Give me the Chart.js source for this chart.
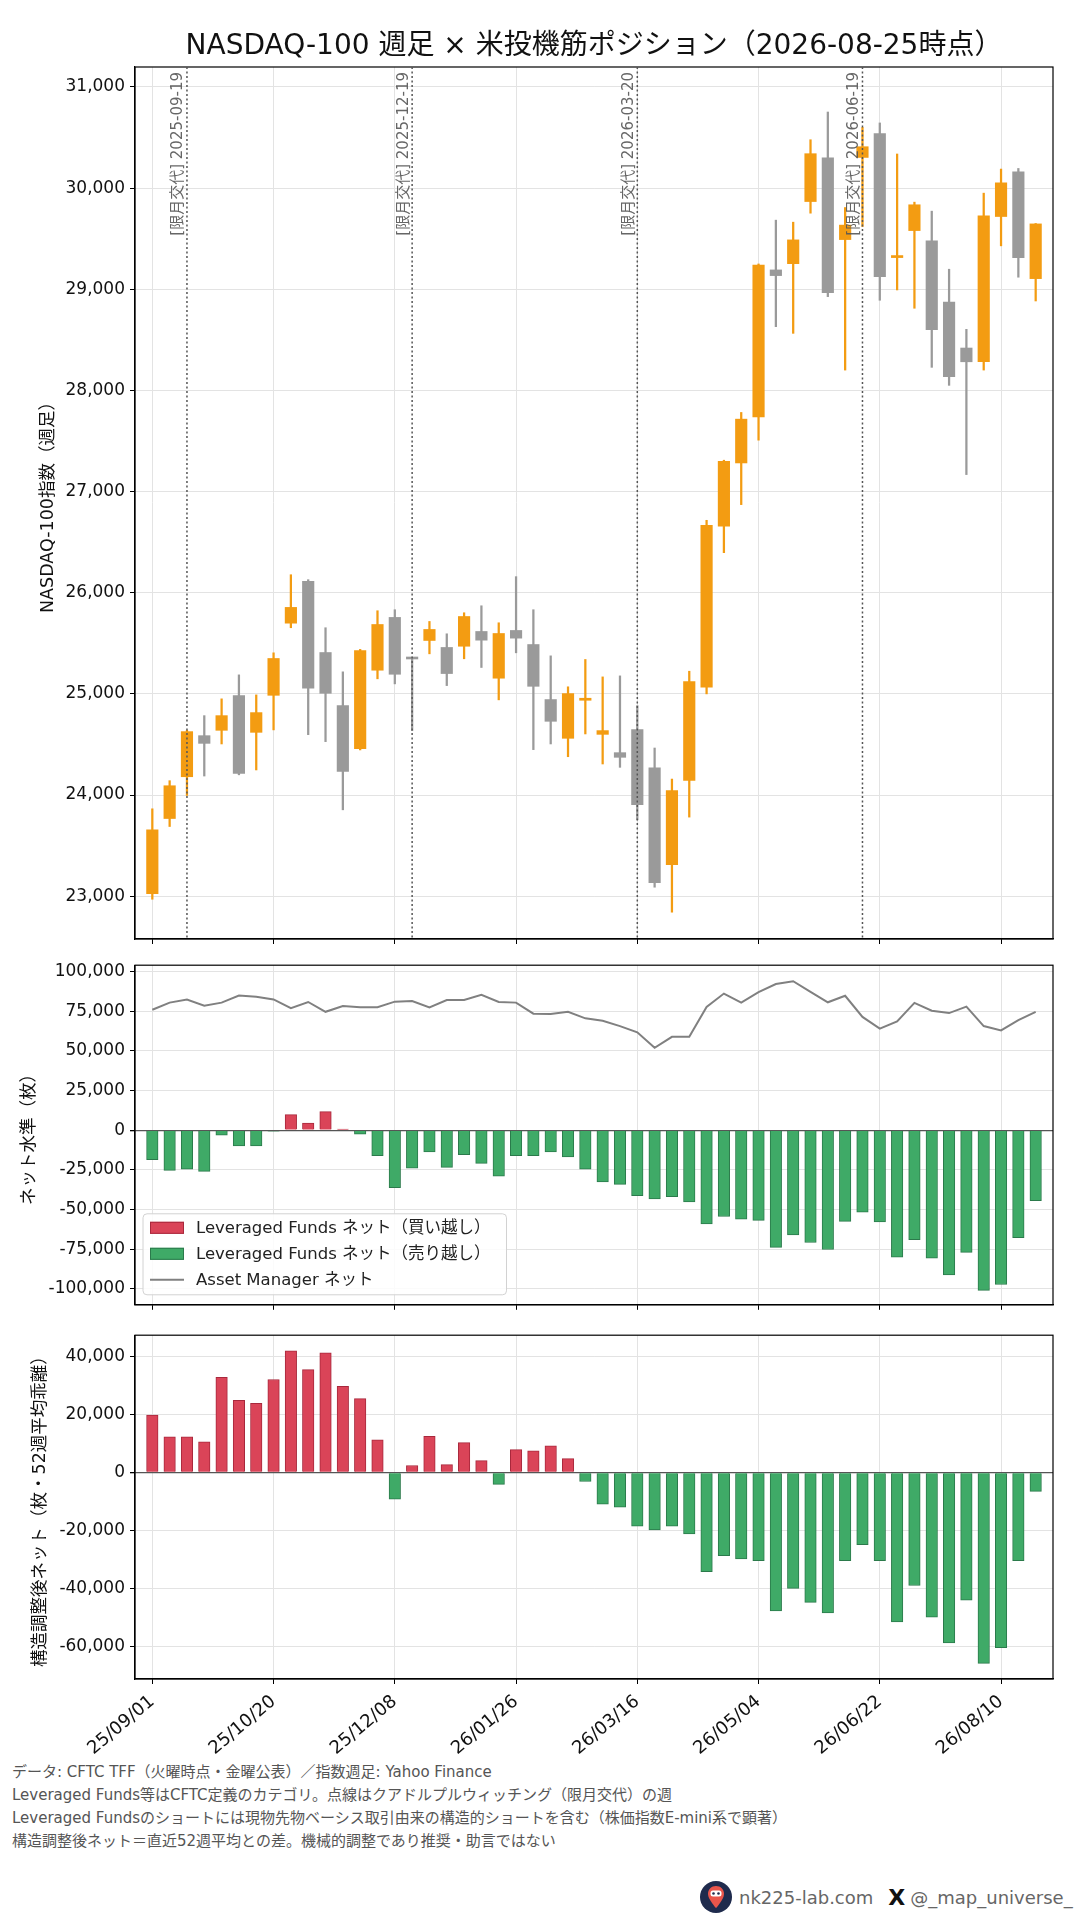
<!DOCTYPE html>
<html lang="ja">
<head>
<meta charset="utf-8">
<title>NASDAQ-100 週足 × 米投機筋ポジション</title>
<script src="https://cdn.jsdelivr.net/npm/chart.js@4.4.1/dist/chart.umd.min.js"></script>
<style>
	html, body { margin: 0; padding: 0; background: #fff; }
	body {
		width: 1080px; height: 1920px; position: relative; overflow: hidden;
		font-family: "DejaVu Sans", "Noto Sans CJK JP", sans-serif;
	}
	.panel { position: absolute; left: 0; width: 1080px; }
	#p1 { top: 0; height: 955px; }
	#p2 { top: 950px; height: 370px; }
	#p3 { top: 1320px; height: 440px; }
	#notes {
		position: absolute; left: 12px; top: 1761px;
		font-size: 15px; line-height: 23px; color: #555;
	}
	#credit {
		position: absolute; left: 700px; top: 1881px; height: 32px;
		display: flex; align-items: center; color: #666; font-size: 18px;
	}
	#credit svg { margin-right: 7px; }
	#credit .x { color: #111; font-weight: bold; font-size: 22px; margin: 0 5px 0 15px; }
</style>
</head>
<body>
<div class="panel" id="p1"><canvas id="priceChart"></canvas></div>
<div class="panel" id="p2"><canvas id="netChart"></canvas></div>
<div class="panel" id="p3"><canvas id="adjChart"></canvas></div>

<div id="notes">
	<div>データ: CFTC TFF（火曜時点・金曜公表）／指数週足: Yahoo Finance</div>
	<div>Leveraged Funds等はCFTC定義のカテゴリ。点線はクアドルプルウィッチング（限月交代）の週</div>
	<div>Leveraged Fundsのショートには現物先物ベーシス取引由来の構造的ショートを含む（株価指数E-mini系で顕著）</div>
	<div>構造調整後ネット＝直近52週平均との差。機械的調整であり推奨・助言ではない</div>
</div>

<div id="credit">
	<svg width="32" height="32" viewBox="0 0 32 32">
		<circle cx="16" cy="16" r="16" fill="#1f2b4d"/>
		<path d="M16 5c-4.7 0-8 3.4-8 7.9C8 18.3 16 27 16 27s8-8.7 8-14.1C24 8.4 20.7 5 16 5z" fill="#e9554b"/>
		<rect x="10.5" y="9.5" width="11" height="6" rx="2.5" fill="#fff"/>
		<circle cx="13.5" cy="12.5" r="1.3" fill="#1f2b4d"/>
		<circle cx="18.5" cy="12.5" r="1.3" fill="#1f2b4d"/>
	</svg>
	<span>nk225-lab.com</span><span class="x">X</span><span>@_map_universe_</span>
</div>

<script>
// 週（月曜日付）
const weekLabels = [
	'25/09/01', '25/09/08', '25/09/15', '25/09/22', '25/09/29', '25/10/06', '25/10/13',
	'25/10/20', '25/10/27', '25/11/03', '25/11/10', '25/11/17', '25/11/24', '25/12/01',
	'25/12/08', '25/12/15', '25/12/22', '25/12/29', '26/01/05', '26/01/12', '26/01/19',
	'26/01/26', '26/02/02', '26/02/09', '26/02/16', '26/02/23', '26/03/02', '26/03/09',
	'26/03/16', '26/03/23', '26/03/30', '26/04/06', '26/04/13', '26/04/20', '26/04/27',
	'26/05/04', '26/05/11', '26/05/18', '26/05/25', '26/06/01', '26/06/08', '26/06/15',
	'26/06/22', '26/06/29', '26/07/06', '26/07/13', '26/07/20', '26/07/27', '26/08/03',
	'26/08/10', '26/08/17', '26/08/24'
];
const xTickIdx = [0, 7, 14, 21, 28, 35, 42, 49];

// 目盛り
const priceTicks = [23000, 24000, 25000, 26000, 27000, 28000, 29000, 30000, 31000];
const netTicks = [-100000, -75000, -50000, -25000, 0, 25000, 50000, 75000, 100000];
const adjTicks = [-60000, -40000, -20000, 0, 20000, 40000];

// NASDAQ-100 週足 OHLC
const openP = [
	23026, 23768, 24181, 24587, 24640, 24983, 24620, 24986, 25699, 26112,
	25409, 24884, 24459, 25234, 25756, 25352, 25528, 25459, 25471, 25617,
	25155, 25627, 25488, 24944, 24561, 24937, 24600, 24419, 24646, 24270,
	23313, 24145, 25066, 26659, 27283, 27739, 29191, 29253, 29867, 30300,
	29491, 30303, 30538, 29313, 29580, 29478, 28874, 28419, 28283, 29719,
	30161, 29105
];
const highP = [
	23864, 24142, 24640, 24785, 24951, 25188, 24990, 25406, 26178, 26129,
	25654, 25218, 25440, 25822, 25832, 25362, 25716, 25594, 25802, 25871,
	25703, 26159, 25832, 25376, 25070, 25340, 25168, 25178, 24884, 24465,
	24158, 25224, 26716, 27310, 27782, 29250, 29683, 29663, 30478, 30752,
	29808, 30600, 30644, 30337, 29861, 29772, 29198, 28604, 29950, 30188,
	30194, 29650
];
const lowP = [
	22970, 23689, 23996, 24188, 24505, 24200, 24248, 24644, 25654, 24597,
	24528, 23854, 24446, 25149, 25099, 24637, 25396, 25082, 25347, 25261,
	24941, 25406, 24449, 24505, 24379, 24604, 24307, 24274, 23755, 23089,
	22842, 23782, 25000, 26396, 26871, 27508, 28630, 28564, 29752, 28927,
	28201, 29620, 28891, 28993, 28812, 28228, 28050, 27168, 28201, 29429,
	29119, 28884
];
const closeP = [
	23656, 24092, 24627, 24511, 24785, 24214, 24815, 25350, 25855, 25056,
	25006, 24234, 25429, 25686, 25194, 25345, 25637, 25201, 25765, 25531,
	25597, 25551, 25075, 24729, 25003, 24957, 24637, 24373, 23904, 23135,
	24043, 25122, 26666, 27300, 27716, 29240, 29135, 29488, 30340, 28966,
	29634, 30409, 29125, 29333, 29835, 28600, 28135, 28283, 29726, 30052,
	29313, 29646
];

// 限月交代（クアドルプルウィッチング）の週
const rollWeekIdx = [2, 15, 28, 41];
const rollDates = ['2025-09-19', '2025-12-19', '2026-03-20', '2026-06-19'];

// CFTC TFF ネット（枚）
const lfNet = [
	-18500, -25300, -24600, -25900, -3100, -9900, -9900, -600, 9900, 4500,
	11700, 800, -2500, -16000, -36300, -24000, -13600, -23400, -15400, -20900,
	-29000, -16000, -16000, -13600, -16800, -24600, -32600, -34100, -41300, -43300,
	-41900, -45200, -59100, -54400, -56100, -56900, -73900, -66100, -70800, -75200,
	-57500, -51700, -57900, -80100, -69000, -80700, -91200, -77000, -101000, -97300,
	-67800, -44400
];
const amNet = [
	76000, 80500, 82500, 78600, 80500, 85000, 84200, 82500, 77000, 80900,
	74700, 78400, 77600, 77600, 81100, 81500, 77400, 82100, 82100, 85400,
	80900, 80500, 73500, 73300, 74700, 70600, 69000, 65700, 61800, 52000,
	58900, 58900, 77800, 86200, 80500, 87100, 92200, 94000, 87300, 80700,
	84800, 71500, 64100, 68600, 80300, 75400, 73900, 78000, 65700, 63000,
	69400, 74700
];
// 構造調整後ネット（52週平均との差）
const lfAdjusted = [
	19800, 12300, 12300, 10600, 32800, 24900, 23900, 32100, 42000, 35500,
	41300, 29700, 25500, 11300, -9200, 2400, 12500, 2700, 10300, 4100,
	-4100, 7900, 7500, 9200, 4800, -3100, -10900, -12000, -18500, -19800,
	-18500, -21200, -34200, -28700, -29800, -30400, -47800, -40000, -44800, -48500,
	-30400, -24900, -30400, -51600, -39000, -49900, -58800, -44100, -65900, -60500,
	-30400, -6500
];

const FONT = '"DejaVu Sans", "Noto Sans CJK JP", sans-serif';
const ORANGE = '#F39C12';
const GRAY = '#9A9A9A';
const RED = '#DA4458';
const RED_EDGE = '#A8283C';
const GREEN = '#3FAA67';
const GREEN_EDGE = '#2B7A4B';
const GRID = '#e3e3e3';

Chart.defaults.font.family = FONT;
Chart.defaults.font.size = 17;
Chart.defaults.color = '#111';

const candleColor = (ctx) => closeP[ctx.dataIndex] >= openP[ctx.dataIndex] ? ORANGE : GRAY;
const signColor = (arr, pos, neg) => (ctx) => arr[ctx.dataIndex] > 0 ? pos : neg;

// 枠線（上・右も含む）
const frame = {
	id: 'frame',
	afterDatasetsDraw(chart) {
		const {ctx, chartArea: a} = chart;
		ctx.save();
		ctx.strokeStyle = '#000';
		ctx.lineWidth = 1.2;
		ctx.strokeRect(a.left, a.top, a.right - a.left, a.bottom - a.top);
		ctx.restore();
	}
};

// 限月交代の点線とラベル
const rollMarks = {
	id: 'rollMarks',
	afterDatasetsDraw(chart) {
		const {ctx, chartArea: a, scales: {x}} = chart;
		ctx.save();
		rollWeekIdx.forEach((w, k) => {
			const px = x.getPixelForValue(w);
			ctx.setLineDash([2, 2.5]);
			ctx.strokeStyle = '#555';
			ctx.lineWidth = 1.5;
			ctx.beginPath();
			ctx.moveTo(px, a.top);
			ctx.lineTo(px, a.bottom);
			ctx.stroke();
			ctx.setLineDash([]);

			ctx.save();
			ctx.translate(px - 1, a.top + 5);
			ctx.rotate(-Math.PI / 2);
			ctx.textAlign = 'right';
			ctx.textBaseline = 'bottom';
			ctx.fillStyle = 'rgba(85,85,85,0.9)';
			ctx.font = '15px ' + FONT;
			ctx.fillText('[限月交代] ' + rollDates[k], 0, 0);
			ctx.restore();
		});
		ctx.restore();
	}
};

// 枠付き凡例（左下）
const boxLegend = {
	id: 'boxLegend',
	afterDraw(chart) {
		const {ctx, chartArea: a} = chart;
		const sets = chart.data.datasets;
		ctx.save();
		ctx.font = '16.5px ' + FONT;
		const maxW = Math.max(...sets.map(d => ctx.measureText(d.label).width));
		const rowH = 26;
		const w = 53 + maxW + 16;
		const h = rowH * sets.length + 3;
		const left = a.left + 8;
		const top = a.bottom - 10 - h;
		ctx.beginPath();
		if (ctx.roundRect) {
			ctx.roundRect(left, top, w, h, 4);
		} else {
			ctx.rect(left, top, w, h);
		}
		ctx.fillStyle = 'rgba(255,255,255,0.85)';
		ctx.fill();
		ctx.strokeStyle = '#d2d2d2';
		ctx.lineWidth = 1;
		ctx.stroke();
		sets.forEach((d, i) => {
			const cy = top + 14 + i * rowH;
			if (d.type === 'line') {
				ctx.strokeStyle = d.borderColor;
				ctx.lineWidth = d.borderWidth;
				ctx.beginPath();
				ctx.moveTo(left + 7, cy);
				ctx.lineTo(left + 41, cy);
				ctx.stroke();
			} else {
				ctx.fillStyle = d.backgroundColor;
				ctx.fillRect(left + 7, cy - 6, 34, 12);
				ctx.strokeStyle = d.borderColor;
				ctx.lineWidth = 1;
				ctx.strokeRect(left + 7.5, cy - 5.5, 33, 11);
			}
			ctx.fillStyle = '#222';
			ctx.textAlign = 'left';
			ctx.textBaseline = 'middle';
			ctx.fillText(d.label, left + 53, cy + 1);
		});
		ctx.restore();
	}
};

function xAxis(height, showLabels) {
	return {
		type: 'linear',
		min: -1,
		max: 52,
		offset: false,
		afterBuildTicks: (s) => { s.ticks = xTickIdx.map(v => ({value: v})); },
		afterFit: (s) => { s.height = height; },
		grid: { offset: false, color: GRID, tickColor: '#000', tickLength: 5 },
		border: { color: '#000', width: 1.2 },
		ticks: {
			display: showLabels,
			autoSkip: false,
			minRotation: 40,
			maxRotation: 40,
			padding: 7,
			font: { size: 18 },
			callback: (v) => weekLabels[v]
		}
	};
}

function yAxis(min, max, tickValues, title, titlePad, zeroLine) {
	return {
		type: 'linear',
		min: min,
		max: max,
		afterBuildTicks: (s) => { s.ticks = tickValues.map(v => ({value: v})); },
		afterFit: (s) => { s.width = 135; },
		ticks: { padding: 5 },
		grid: {
			color: (c) => (zeroLine && c.tick && c.tick.value === 0) ? '#555' : GRID,
			lineWidth: (c) => (zeroLine && c.tick && c.tick.value === 0) ? 1.3 : 1,
			tickColor: '#000',
			tickLength: 5
		},
		border: { color: '#000', width: 1.2 },
		title: {
			display: true,
			text: title,
			color: '#111',
			font: { size: 17.5, lineHeight: 1.2 },
			padding: { top: titlePad, bottom: 0 }
		}
	};
}

const baseOptions = {
	responsive: true,
	maintainAspectRatio: false,
	animation: false,
	events: []
};

new Chart(document.getElementById('priceChart'), {
	type: 'bar',
	data: {
		datasets: [{
			label: '実体',
			data: openP.map((o, i) => ({x: i, y: [o, closeP[i]]})),
			backgroundColor: candleColor,
			barThickness: 11.5,
			minBarLength: 2,
			grouped: false,
			order: 0
		}, {
			label: 'ヒゲ',
			data: lowP.map((l, i) => ({x: i, y: [l, highP[i]]})),
			backgroundColor: candleColor,
			barThickness: 1.6,
			grouped: false,
			order: 1
		}]
	},
	options: {
		...baseOptions,
		layout: { padding: { left: 0, right: 27, top: 0, bottom: 0 } },
		plugins: {
			legend: { display: false },
			tooltip: { enabled: false },
			title: {
				display: true,
				fullSize: false,
				text: 'NASDAQ-100 週足 × 米投機筋ポジション（2026-08-25時点）',
				color: '#111',
				font: { size: 28, weight: 'normal', lineHeight: 1.2 },
				padding: { top: 30.2, bottom: 3.2 }
			}
		},
		scales: {
			x: xAxis(16, false),
			y: yAxis(22577, 31197, priceTicks, 'NASDAQ-100指数（週足）', 38, false)
		}
	},
	plugins: [frame, rollMarks]
});

new Chart(document.getElementById('netChart'), {
	type: 'bar',
	data: {
		datasets: [{
			type: 'bar',
			label: 'Leveraged Funds ネット（買い越し）',
			data: lfNet.map((v, i) => ({x: i, y: v > 0 ? v : null})),
			backgroundColor: RED,
			borderColor: RED_EDGE,
			borderWidth: 1,
			barThickness: 11.5,
			grouped: false
		}, {
			type: 'bar',
			label: 'Leveraged Funds ネット（売り越し）',
			data: lfNet.map((v, i) => ({x: i, y: v > 0 ? null : v})),
			backgroundColor: GREEN,
			borderColor: GREEN_EDGE,
			borderWidth: 1,
			barThickness: 11.5,
			grouped: false
		}, {
			type: 'line',
			label: 'Asset Manager ネット',
			data: amNet.map((v, i) => ({x: i, y: v})),
			borderColor: '#808080',
			borderWidth: 2,
			pointRadius: 0,
			tension: 0
		}]
	},
	options: {
		...baseOptions,
		layout: { padding: { left: 0, right: 27, top: 10, bottom: 0 } },
		plugins: { legend: { display: false }, tooltip: { enabled: false } },
		scales: {
			x: xAxis(12, false),
			y: yAxis(-110100, 104100, netTicks, 'ネット水準（枚）', 19, true)
		}
	},
	plugins: [frame, boxLegend]
});

new Chart(document.getElementById('adjChart'), {
	type: 'bar',
	data: {
		datasets: [{
			label: '構造調整後ネット',
			data: lfAdjusted.map((v, i) => ({x: i, y: v})),
			backgroundColor: signColor(lfAdjusted, RED, GREEN),
			borderColor: signColor(lfAdjusted, RED_EDGE, GREEN_EDGE),
			borderWidth: 1,
			barThickness: 11.5
		}]
	},
	options: {
		...baseOptions,
		layout: { padding: { left: 0, right: 27, top: 12, bottom: 0 } },
		plugins: { legend: { display: false }, tooltip: { enabled: false } },
		scales: {
			x: xAxis(81, true),
			y: yAxis(-71270, 47380, adjTicks, '構造調整後ネット（枚・52週平均乖離）', 30, true)
		}
	},
	plugins: [frame]
});
</script>
</body>
</html>
